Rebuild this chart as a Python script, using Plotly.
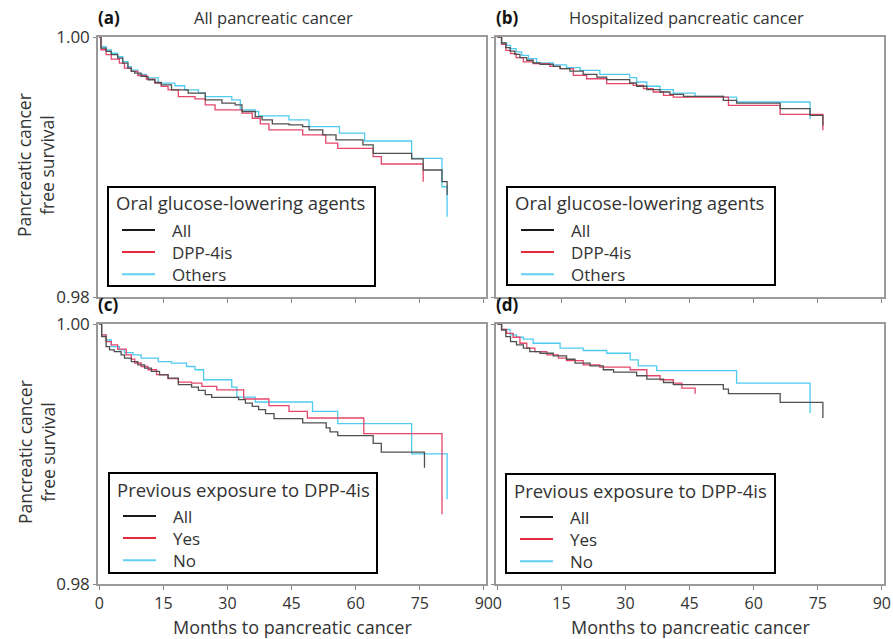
import plotly.graph_objects as go

# ---------------- data (months, survival) ----------------
a_all_t = [0, 0.4, 1.6, 2.8, 4.3, 5.5, 6.7, 7.5, 8.3, 9.8, 11.4, 13.0, 14.5, 16.9, 20.8, 24.8, 28.7, 31.8, 33.4, 36.5, 38.1, 40.5, 44.4, 47.6, 49.1, 52.3, 55.4, 61.7, 64.1, 73.1, 75.8, 80.2, 81.4]
a_all_s = [1.0, 0.99915, 0.99889, 0.99864, 0.99838, 0.99799, 0.99761, 0.99735, 0.99722, 0.99697, 0.99671, 0.99650, 0.99632, 0.99594, 0.99568, 0.99517, 0.99491, 0.99478, 0.99427, 0.99388, 0.99362, 0.99332, 0.99324, 0.99311, 0.99285, 0.99247, 0.99208, 0.99170, 0.99105, 0.99062, 0.98977, 0.98887, 0.98784]
a_oth_t = [0, 0.4, 1.6, 2.8, 4.3, 5.5, 6.7, 7.5, 9.0, 11.0, 13.8, 17.7, 20.0, 23.2, 24.8, 31.0, 33.0, 36.5, 37.3, 44.4, 49.1, 56.2, 62.1, 73.1, 80.2, 81.4]
a_oth_s = [1.0, 0.99925, 0.99900, 0.99875, 0.99848, 0.99810, 0.99772, 0.99745, 0.99712, 0.99685, 0.99645, 0.99625, 0.99594, 0.99568, 0.99542, 0.99517, 0.99440, 0.99427, 0.99393, 0.99362, 0.99311, 0.99260, 0.99200, 0.99067, 0.98848, 0.98617]
a_dpp_t = [0, 0.4, 1.6, 2.8, 4.7, 5.9, 7.5, 9.0, 11.0, 13.0, 14.5, 16.1, 18.5, 22.4, 24.8, 27.1, 33.4, 35.8, 37.7, 39.7, 47.6, 53.0, 55.8, 64.1, 66.0, 75.8]
a_dpp_s = [1.0, 0.99902, 0.99864, 0.99830, 0.99799, 0.99761, 0.99735, 0.99704, 0.99676, 0.99645, 0.99620, 0.99594, 0.99542, 0.99524, 0.99478, 0.99440, 0.99414, 0.99375, 0.99332, 0.99285, 0.99247, 0.99183, 0.99144, 0.99080, 0.99023, 0.98887]

b_all_t = [0, 1.0, 2.0, 3.0, 4.1, 5.3, 6.9, 8.4, 10.0, 13.1, 14.7, 17.0, 20.1, 23.3, 25.6, 31.0, 32.6, 35.0, 38.1, 40.4, 43.6, 52.9, 56.0, 66.2, 73.2, 76.2]
b_all_s = [1.0, 0.99954, 0.99918, 0.99892, 0.99867, 0.99841, 0.99821, 0.99800, 0.99790, 0.99774, 0.99756, 0.99738, 0.99713, 0.99692, 0.99672, 0.99646, 0.99621, 0.99595, 0.99577, 0.99559, 0.99544, 0.99513, 0.99492, 0.99449, 0.99397, 0.99320]
b_oth_t = [0, 1.0, 2.2, 3.1, 4.4, 5.7, 7.3, 9.2, 13.1, 16.2, 19.4, 24.0, 31.0, 32.6, 35.0, 38.1, 41.2, 46.3, 52.9, 56.0, 73.2]
b_oth_s = [1.0, 0.99954, 0.99936, 0.99910, 0.99885, 0.99859, 0.99833, 0.99800, 0.99785, 0.99764, 0.99744, 0.99713, 0.99687, 0.99654, 0.99621, 0.99595, 0.99569, 0.99544, 0.99538, 0.99500, 0.99370]
b_dpp_t = [0, 1.0, 2.0, 3.1, 4.4, 6.1, 8.4, 12.3, 14.7, 17.8, 20.9, 25.6, 31.8, 34.2, 36.5, 38.9, 41.2, 54.1, 66.2, 76.2]
b_dpp_s = [1.0, 0.99944, 0.99897, 0.99872, 0.99841, 0.99808, 0.99795, 0.99774, 0.99756, 0.99705, 0.99679, 0.99641, 0.99628, 0.99603, 0.99577, 0.99551, 0.99538, 0.99474, 0.99405, 0.99282]

c_all_t = [0, 0.55, 1.6, 2.4, 3.5, 5.1, 5.9, 7.5, 9.0, 10.6, 12.2, 14.1, 16.1, 18.5, 21.6, 23.2, 24.8, 26.3, 32.6, 34.2, 35.8, 37.3, 38.9, 40.9, 47.6, 53.1, 54.0, 55.8, 64.1, 66.0, 76.1]
c_all_s = [1.0, 0.99903, 0.99826, 0.99801, 0.99788, 0.99762, 0.99737, 0.99711, 0.99686, 0.99660, 0.99635, 0.99609, 0.99584, 0.99533, 0.99515, 0.99489, 0.99456, 0.99436, 0.99418, 0.99392, 0.99367, 0.99341, 0.99310, 0.99272, 0.99239, 0.99201, 0.99170, 0.99142, 0.99081, 0.99014, 0.98894]
c_yes_t = [0, 0.55, 1.6, 2.8, 4.3, 6.3, 7.5, 8.3, 9.8, 11.4, 13.4, 16.1, 18.5, 21.6, 24.0, 27.5, 33.8, 39.7, 44.4, 48.7, 61.9, 80.2]
c_yes_s = [1.0, 0.99916, 0.99865, 0.99839, 0.99806, 0.99762, 0.99730, 0.99700, 0.99673, 0.99648, 0.99610, 0.99580, 0.99553, 0.99545, 0.99520, 0.99494, 0.99423, 0.99372, 0.99328, 0.99277, 0.99157, 0.98537]
c_no_t = [0, 0.55, 1.6, 2.8, 4.7, 5.9, 7.9, 9.8, 13.8, 16.9, 20.4, 22.4, 24.4, 31.0, 32.2, 36.5, 49.9, 55.8, 73.1, 81.4]
c_no_s = [1.0, 0.99916, 0.99877, 0.99826, 0.99801, 0.99780, 0.99762, 0.99737, 0.99711, 0.99699, 0.99673, 0.99648, 0.99571, 0.99515, 0.99438, 0.99400, 0.99328, 0.99234, 0.99001, 0.98652]

d_all_t = [0, 1.0, 2.0, 3.1, 4.5, 6.1, 7.6, 10.0, 13.1, 16.2, 18.2, 21.7, 24.8, 27.2, 32.6, 35.0, 38.9, 41.2, 52.9, 54.1, 66.2, 76.2]
d_all_s = [1.0, 0.99954, 0.99903, 0.99865, 0.99839, 0.99814, 0.99788, 0.99775, 0.99755, 0.99729, 0.99699, 0.99678, 0.99648, 0.99630, 0.99602, 0.99576, 0.99550, 0.99533, 0.99499, 0.99464, 0.99397, 0.99277]
d_yes_t = [0, 1.0, 2.2, 3.7, 5.3, 6.9, 8.8, 11.6, 14.3, 16.2, 20.1, 24.0, 31.1, 35.0, 38.1, 41.2, 43.2, 46.3]
d_yes_s = [1.0, 0.99959, 0.99928, 0.99898, 0.99852, 0.99814, 0.99788, 0.99762, 0.99737, 0.99719, 0.99686, 0.99668, 0.99648, 0.99602, 0.99571, 0.99545, 0.99507, 0.99464]
d_no_t = [0, 1.0, 3.0, 4.5, 6.1, 8.4, 14.7, 20.1, 25.6, 31.1, 33.0, 37.3, 56.0, 73.2]
d_no_s = [1.0, 0.99959, 0.99916, 0.99898, 0.99883, 0.99852, 0.99814, 0.99796, 0.99775, 0.99724, 0.99678, 0.99642, 0.99545, 0.99316]

x_ticks = [0, 15, 30, 45, 60, 75, 90]
y_ticks = [0.98, 1.00]
y_tick_labels = ["0.98", "1.00"]

panel_titles = ["All pancreatic cancer", "Hospitalized pancreatic cancer"]
panel_tags = ["(a)", "(b)", "(c)", "(d)"]
legend_titles = ["Oral glucose-lowering agents", "Oral glucose-lowering agents",
                 "Previous exposure to DPP-4is", "Previous exposure to DPP-4is"]
series_names_top = ["All", "DPP-4is", "Others"]
series_names_bot = ["All", "Yes", "No"]

# ---------------- styling ----------------
W, H = 893, 639
FONT = "Open Sans"
TXT = "#333333"
COL_ALL = "#505050"
COL_RED = "#e5466a"
COL_CYAN = "#4fcbef"
LEG_ALL = "#1a1a1a"
LEG_RED = "#e82a3a"
LEG_CYAN = "#5fd0f2"

# plot areas in pixels (x0, x1, ytop, ybottom)
boxes = {
    1: (98, 486, 37, 297),
    2: (496, 884, 37, 297),
    3: (98, 486, 324, 584),
    4: (496, 884, 324, 584),
}
# legend boxes in pixels (x0, x1, ytop, ybottom)
legend_boxes = {
    1: (108, 375, 187, 286),
    2: (507, 775, 187, 285),
    3: (109, 377, 473, 573),
    4: (506, 775, 474, 573),
}
title_centers = {1: 273, 2: 686}

def px(x):
    return x / W

def py(y):
    return 1 - y / H

fig = go.Figure()

panels = [
    (1, [(a_all_t, a_all_s), (a_dpp_t, a_dpp_s), (a_oth_t, a_oth_s)], series_names_top),
    (2, [(b_all_t, b_all_s), (b_dpp_t, b_dpp_s), (b_oth_t, b_oth_s)], series_names_top),
    (3, [(c_all_t, c_all_s), (c_yes_t, c_yes_s), (c_no_t, c_no_s)], series_names_bot),
    (4, [(d_all_t, d_all_s), (d_yes_t, d_yes_s), (d_no_t, d_no_s)], series_names_bot),
]
line_cols = [COL_ALL, COL_RED, COL_CYAN]
leg_cols = [LEG_ALL, LEG_RED, LEG_CYAN]

for k, series, names in panels:
    xa = "x" if k == 1 else f"x{k}"
    ya = "y" if k == 1 else f"y{k}"
    for idx in [2, 1, 0]:
        t, s = series[idx]
        fig.add_trace(go.Scatter(x=t, y=s, mode="lines", name=names[idx],
                                 line=dict(color=line_cols[idx], width=1.3, shape="hv"),
                                 xaxis=xa, yaxis=ya, showlegend=False, hoverinfo="skip"))

layout = dict(
    template="none",
    width=W, height=H, margin=dict(l=0, r=0, t=0, b=0, pad=0, autoexpand=False),
    paper_bgcolor="white", plot_bgcolor="white", showlegend=False,
    font=dict(family=FONT, size=17, color=TXT),
)

for k, (x0, x1, yt, yb) in boxes.items():
    xk = "xaxis" if k == 1 else f"xaxis{k}"
    yk = "yaxis" if k == 1 else f"yaxis{k}"
    ya = "y" if k == 1 else f"y{k}"
    xa = "x" if k == 1 else f"x{k}"
    layout[xk] = dict(domain=[px(x0), px(x1)], range=[-0.3, 90.5], anchor=ya, automargin=False,
                      tickvals=x_ticks, showticklabels=(k >= 3), ticks="outside", ticklen=4,
                      tickcolor="#888888", showline=True, linecolor="#9a9a9a", linewidth=1.5,
                      mirror=True, showgrid=False, zeroline=False,
                      tickfont=dict(family=FONT, size=16, color=TXT))
    layout[yk] = dict(domain=[py(yb), py(yt)], range=[0.98, 1.0], anchor=xa, automargin=False,
                      tickvals=y_ticks, ticktext=y_tick_labels, showticklabels=(k in (1, 3)),
                      ticks="outside", ticklen=3, tickcolor="#888888",
                      showline=True, linecolor="#9a9a9a", linewidth=1.5, mirror=True,
                      showgrid=False, zeroline=False,
                      tickfont=dict(family=FONT, size=17, color=TXT))

fig.update_layout(**layout)

shapes = []
annotations = []

# legends drawn as boxes with sample lines and labels
ITEM_FONT = 17
for k, series, names in panels:
    lx0, lx1, lyt, lyb = legend_boxes[k]
    shapes.append(dict(type="rect", xref="paper", yref="paper", x0=px(lx0), x1=px(lx1),
                       y0=py(lyb), y1=py(lyt), line=dict(color="black", width=2),
                       fillcolor="white", layer="above"))
    annotations.append(dict(text=legend_titles[k - 1], x=px(lx0 + 6), y=py(lyt + 16),
                            xref="paper", yref="paper", xanchor="left", yanchor="middle",
                            showarrow=False, font=dict(family=FONT, size=18.5, color=TXT)))
    step = ITEM_FONT * 1.3
    first = lyt + 43
    for i in range(3):
        yy = py(first + i * step)
        shapes.append(dict(type="line", xref="paper", yref="paper", x0=px(lx0 + 14), x1=px(lx0 + 47),
                           y0=yy, y1=yy, line=dict(color=leg_cols[i], width=2), layer="above"))
    annotations.append(dict(text="<br>".join(names), x=px(lx0 + 62), y=py(first + step),
                            xref="paper", yref="paper", xanchor="left", yanchor="middle", align="left",
                            showarrow=False, font=dict(family=FONT, size=ITEM_FONT, color=TXT)))

for k, tag in zip([1, 2, 3, 4], panel_tags):
    x0, x1, yt, yb = boxes[k]
    annotations.append(dict(text=f"<b>{tag}</b>", x=px(x0 - 2), y=py(yt - 20), xref="paper", yref="paper",
                            xanchor="left", yanchor="middle", showarrow=False,
                            font=dict(family=FONT, size=17, color="#111111")))
for k, title in zip([1, 2], panel_titles):
    x0, x1, yt, yb = boxes[k]
    annotations.append(dict(text=title, x=px(title_centers[k]), y=py(yt - 20), xref="paper", yref="paper",
                            xanchor="center", yanchor="middle", showarrow=False,
                            font=dict(family=FONT, size=16.5, color=TXT)))
for k in [1, 3]:
    x0, x1, yt, yb = boxes[k]
    annotations.append(dict(text="Pancreatic cancer<br>free survival", x=px(36), y=py((yt + yb) / 2 - 2),
                            xref="paper", yref="paper", xanchor="center", yanchor="middle",
                            textangle=-90, showarrow=False,
                            font=dict(family=FONT, size=17.5, color=TXT)))
for k in [3, 4]:
    x0, x1, yt, yb = boxes[k]
    annotations.append(dict(text="Months to pancreatic cancer", x=px((x0 + x1) / 2), y=py(627),
                            xref="paper", yref="paper", xanchor="center", yanchor="middle",
                            showarrow=False, font=dict(family=FONT, size=18, color=TXT)))
fig.update_layout(shapes=shapes, annotations=annotations)

fig.write_html("out.html", config={"displayModeBar": False},
               post_script="document.body.style.margin='0';")
